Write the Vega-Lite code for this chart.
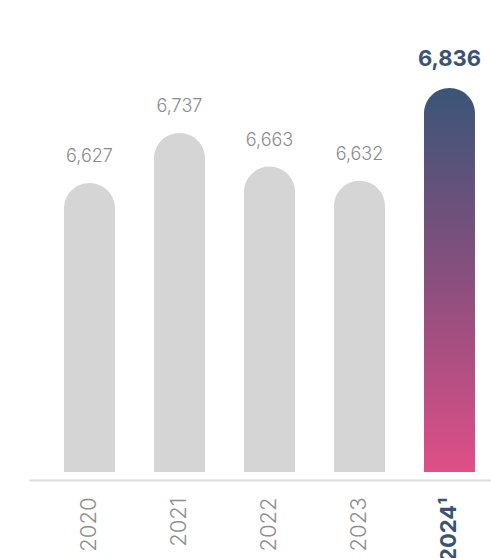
{
  "$schema": "https://vega.github.io/schema/vega-lite/v6.json",
  "autosize": "none",
  "width": 462,
  "height": 452,
  "padding": {"left": 29, "top": 20, "right": 0, "bottom": 86},
  "background": "white",
  "config": {"view": {"stroke": null}, "font": "Inter"},
  "data": {"values": [
    {"year": "2020", "value": 6627},
    {"year": "2021", "value": 6737},
    {"year": "2022", "value": 6663},
    {"year": "2023", "value": 6632},
    {"year": "2024", "value": 6836}
  ]},
  "encoding": {
    "x": {
      "field": "year", "type": "nominal", "sort": null,
      "scale": {"paddingInner": 0.4333, "paddingOuter": 0.2833, "align": 0.686},
      "axis": {
        "title": null, "ticks": false, "labelAngle": 270, "labelAlign": "right", "labelBaseline": "middle",
        "labelPadding": 17, "offset": 8,
        "domainColor": "#dcdcdc", "domainWidth": 2,
        "labelFontSize": 22, "labelFont": "Inter",
        "labelExpr": "datum.value === '2024' ? '2024¹' : datum.value",
        "labelColor": {"condition": {"test": "datum.value === '2024'", "value": "#3a5274"}, "value": "#8e8e8e"},
        "labelFontWeight": {"condition": {"test": "datum.value === '2024'", "value": "bold"}, "value": 300}
      }
    },
    "y": {
      "field": "value", "type": "quantitative",
      "scale": {"domain": [5991, 6985.5], "nice": false, "zero": false},
      "axis": null
    }
  },
  "layer": [
    {
      "transform": [{"filter": "datum.year !== '2024'"}],
      "mark": {"type": "bar", "color": "#d6d5d6", "cornerRadiusTopLeft": 25.5, "cornerRadiusTopRight": 25.5},
      "encoding": {"y2": {"datum": 5991}}
    },
    {
      "transform": [{"filter": "datum.year === '2024'"}],
      "mark": {"type": "bar", "cornerRadiusTopLeft": 25.5, "cornerRadiusTopRight": 25.5,
        "color": {"gradient": "linear", "x1": 0, "y1": 0, "x2": 0, "y2": 1,
          "stops": [{"offset": 0, "color": "#3a5577"}, {"offset": 0.5, "color": "#8a4f7e"}, {"offset": 1, "color": "#e04f87"}]}},
      "encoding": {"y2": {"datum": 5991}}
    },
    {
      "transform": [{"filter": "datum.year !== '2024'"}],
      "mark": {"type": "text", "baseline": "alphabetic", "dy": -21, "fontSize": 18, "fontWeight": 300, "color": "#8a8a8a", "font": "Inter"},
      "encoding": {"text": {"field": "value", "type": "quantitative", "format": ",d"}}
    },
    {
      "transform": [{"filter": "datum.year === '2024'"}],
      "mark": {"type": "text", "baseline": "alphabetic", "dy": -22, "fontSize": 22, "fontWeight": "bold", "color": "#3a5274", "font": "Inter"},
      "encoding": {"text": {"field": "value", "type": "quantitative", "format": ",d"}}
    }
  ]
}
